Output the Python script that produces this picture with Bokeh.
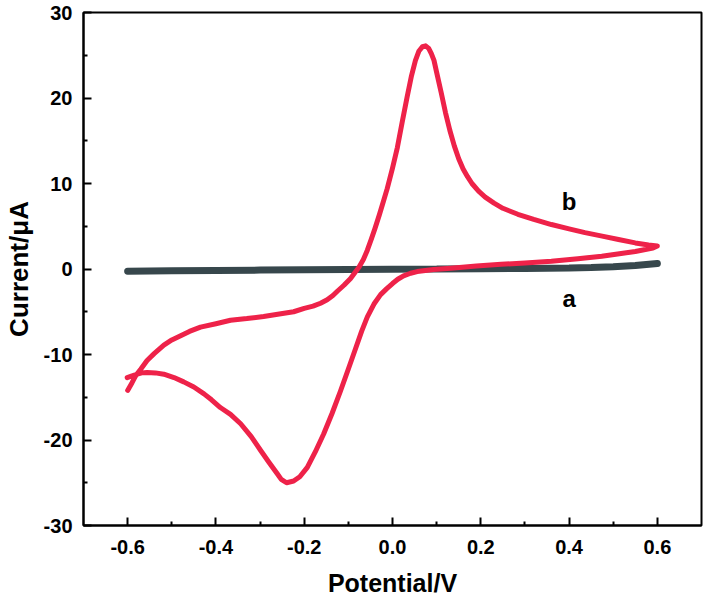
from bokeh.plotting import figure
from bokeh.models import Range1d, FixedTicker, ColumnDataSource
from bokeh.core.properties import value
from bokeh.embed import file_html
from bokeh.resources import INLINE

# ---- data ----
# curve a: bare electrode (flat)
a_potential = [-0.60, -0.50, -0.40, -0.30, -0.20, -0.10, 0.00, 0.10, 0.20, 0.30, 0.40, 0.45, 0.50, 0.55, 0.60]
a_current = [-0.25, -0.21, -0.17, -0.13, -0.10, -0.07, -0.04, -0.01, 0.03, 0.07, 0.13, 0.18, 0.26, 0.40, 0.65]

# curve b: forward (anodic) sweep
b_fwd_potential = [-0.600, -0.590, -0.582, -0.570, -0.556, -0.540, -0.518, -0.500, -0.480, -0.460,
                   -0.435, -0.400, -0.367, -0.330, -0.292, -0.260, -0.224, -0.200, -0.180, -0.163,
                   -0.148, -0.135, -0.125, -0.110, -0.095, -0.085, -0.076, -0.066, -0.057, -0.048,
                   -0.040, -0.030, -0.020, -0.012, 0.000, 0.011, 0.022, 0.033, 0.043, 0.052,
                   0.060, 0.068, 0.075, 0.082, 0.088, 0.094, 0.100, 0.110, 0.120, 0.130,
                   0.140, 0.150, 0.160, 0.170, 0.180, 0.195, 0.210, 0.230, 0.250, 0.284,
                   0.320, 0.360, 0.400, 0.436, 0.475, 0.512, 0.550, 0.580, 0.600]
b_fwd_current = [-14.2, -13.3, -12.5, -11.7, -10.7, -9.9, -8.9, -8.3, -7.8, -7.3,
                 -6.8, -6.4, -6.0, -5.8, -5.55, -5.3, -5.0, -4.6, -4.35, -4.0,
                 -3.6, -3.1, -2.6, -1.9, -1.1, -0.4, 0.2, 1.1, 2.2, 3.5,
                 4.7, 6.3, 8.0, 9.4, 11.8, 14.2, 17.2, 20.1, 22.6, 24.4,
                 25.5, 26.0, 26.1, 25.8, 25.2, 24.4, 23.0, 20.7, 18.3, 16.2,
                 14.4, 12.9, 11.7, 10.8, 10.0, 9.1, 8.4, 7.7, 7.1, 6.4,
                 5.8, 5.2, 4.7, 4.25, 3.85, 3.45, 3.05, 2.8, 2.7]

# curve b: reverse (cathodic) sweep
b_rev_potential = [0.600, 0.590, 0.570, 0.550, 0.510, 0.474, 0.420, 0.360, 0.300, 0.246,
                   0.190, 0.132, 0.093, 0.056, 0.041, 0.025, 0.012, 0.000, -0.013, -0.027,
                   -0.042, -0.057, -0.070, -0.085, -0.100, -0.118, -0.137, -0.156, -0.175, -0.193,
                   -0.210, -0.224, -0.240, -0.252, -0.261, -0.280, -0.299, -0.320, -0.344, -0.367,
                   -0.390, -0.410, -0.427, -0.450, -0.473, -0.495, -0.518, -0.537, -0.556, -0.568,
                   -0.578, -0.590, -0.601]
b_rev_current = [2.7, 2.45, 2.25, 2.05, 1.75, 1.5, 1.2, 0.9, 0.7, 0.55,
                 0.35, 0.1, -0.05, -0.3, -0.5, -0.8, -1.2, -1.7, -2.3, -3.0,
                 -4.1, -5.6, -7.3, -9.5, -11.7, -14.3, -16.9, -19.3, -21.4, -23.2,
                 -24.3, -24.8, -25.0, -24.6, -23.95, -22.6, -21.2, -19.6, -18.1, -17.0,
                 -16.2, -15.3, -14.6, -13.8, -13.2, -12.7, -12.3, -12.15, -12.1, -12.15,
                 -12.3, -12.5, -12.7]

b_potential = b_fwd_potential + b_rev_potential
b_current = b_fwd_current + b_rev_current

curve_labels = ["a", "b"]
curve_label_x = [0.40, 0.40]
curve_label_y = [-3.5, 7.9]

x_ticks = [-0.6, -0.4, -0.2, 0.0, 0.2, 0.4, 0.6]
x_tick_labels = ["-0.6", "-0.4", "-0.2", "0.0", "0.2", "0.4", "0.6"]
x_minor = [-0.5, -0.3, -0.1, 0.1, 0.3, 0.5]
y_ticks = [-30, -20, -10, 0, 10, 20, 30]
y_tick_labels = ["-30", "-20", "-10", "0", "10", "20", "30"]
y_minor = [-25, -15, -5, 5, 15, 25]

FONT = "Liberation Sans"

p = figure(width=706, height=599, output_backend="svg", toolbar_location=None,
           x_range=Range1d(-0.7, 0.7), y_range=Range1d(-30, 30),
           min_border_left=83, min_border_right=5, min_border_top=12, min_border_bottom=74)
p.background_fill_color = "white"
p.border_fill_color = "white"
p.grid.visible = False
p.outline_line_color = "black"
p.outline_line_width = 2
p.outline_line_alpha = 1.0

p.line(a_potential, a_current, line_color="#37474c", line_width=7, line_cap="round")
p.line(b_potential, b_current, line_color="#ee2249", line_width=5,
       line_join="round", line_cap="round")

src = ColumnDataSource(dict(x=curve_label_x, y=curve_label_y, t=curve_labels))
p.text(x="x", y="y", text="t", source=src, text_font=value(FONT), text_font_style="bold",
       text_font_size="24px", text_align="center", text_baseline="middle", text_color="black")

p.xaxis.ticker = FixedTicker(ticks=x_ticks, minor_ticks=x_minor)
p.xaxis.major_label_overrides = {t: l for t, l in zip(x_ticks, x_tick_labels)}
p.yaxis.ticker = FixedTicker(ticks=y_ticks, minor_ticks=y_minor)
p.yaxis.major_label_overrides = {t: l for t, l in zip(y_ticks, y_tick_labels)}

p.xaxis.axis_label = "Potential/V"
p.yaxis.axis_label = "Current/μA"

for ax in (p.xaxis, p.yaxis):
    ax.axis_line_width = 2
    ax.axis_line_color = "black"
    ax.major_tick_in = 8
    ax.major_tick_out = 0
    ax.minor_tick_in = 4
    ax.minor_tick_out = 0
    ax.major_tick_line_width = 2
    ax.minor_tick_line_width = 2
    ax.major_tick_line_color = "black"
    ax.minor_tick_line_color = "black"
    ax.major_label_text_font = FONT
    ax.major_label_text_font_style = "bold"
    ax.major_label_text_font_size = "20px"
    ax.major_label_text_color = "black"
    ax.axis_label_text_font = FONT
    ax.axis_label_text_font_style = "bold"
    ax.axis_label_text_color = "black"

p.xaxis.axis_label_text_font_size = "25px"
p.yaxis.axis_label_text_font_size = "26px"
p.xaxis.major_label_standoff = 14
p.xaxis.axis_label_standoff = 12
p.yaxis.major_label_standoff = 11
p.yaxis.axis_label_standoff = 7

open("out.html", "w").write(file_html(p, INLINE))
